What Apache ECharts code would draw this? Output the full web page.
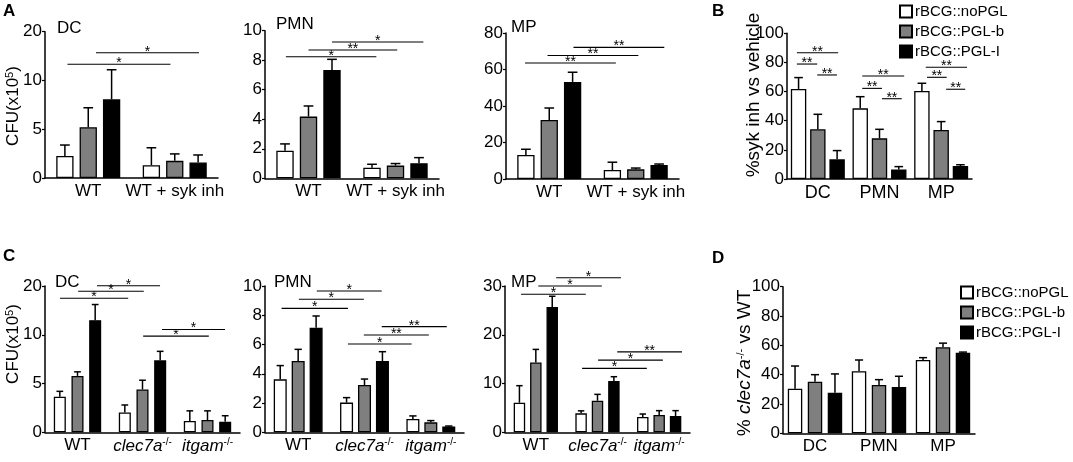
<!DOCTYPE html>
<html>
<head>
<meta charset="utf-8">
<script src="https://cdn.jsdelivr.net/npm/echarts@6/dist/echarts.min.js"></script>
<style>
html, body { margin: 0; padding: 0; background: #fff; }
#chart { width: 1073px; height: 462px; }
</style>
</head>
<body>
<div id="chart"></div>
<script>
var FONT = 'Liberation Sans';

// categories
var groupsInh = ['WT', 'WT + syk inh'];
var groupsKo = ['WT', 'clec7a-/-', 'itgam-/-'];
var cellTypes = ['DC', 'PMN', 'MP'];
var strains = ['rBCG::noPGL', 'rBCG::PGL-b', 'rBCG::PGL-I'];
var cfuTicks = ['0', '5', '10', '20']; // top tick printed as 20 in the figure

// means and SEM, [strain][group]
var aDcMean = [[2.26, 1.32], [5.2, 1.76], [8.07, 1.59]];
var aDcSem = [[1.12, 1.78], [2.0, 0.71], [3.03, 0.77]];
var aPmnMean = [[1.87, 0.72], [4.18, 0.86], [7.34, 1.02]];
var aPmnSem = [[0.46, 0.23], [0.72, 0.14], [0.72, 0.38]];
var aMpMean = [[13.2, 4.9], [32.3, 5.3], [53.2, 7.7]];
var aMpSem = [[3.1, 4.3], [6.6, 0.7], [5.3, 0.5]];

var bMean = [[61.8, 48.5, 60.4], [34.1, 27.9, 33.6], [13.5, 6.6, 8.9]];
var bSem = [[7.8, 8.0, 5.3], [10.3, 6.2, 5.8], [6.0, 1.9, 0.9]];

var cDcMean = [[3.64, 2.04, 1.16], [5.78, 4.39, 1.26], [11.5, 7.38, 1.09]];
var cDcSem = [[0.56, 0.76, 1.04], [0.42, 0.95, 0.94], [1.6, 0.92, 0.61]];
var cPmnMean = [[3.62, 2.03, 0.91], [4.87, 3.23, 0.68], [7.15, 4.87, 0.39]];
var cPmnSem = [[0.94, 0.34, 0.21], [0.8, 0.41, 0.12], [0.8, 0.64, 0.04]];
var cMpMean = [[6.07, 3.89, 3.14], [14.3, 6.48, 3.55], [25.7, 10.5, 3.34]];
var cMpSem = [[3.49, 0.51, 0.61], [2.7, 1.3, 0.89], [2.2, 0.9, 1.1]];

var dMean = [[30.4, 42.3, 50.0], [35.2, 33.0, 58.7], [27.7, 31.5, 55.0]];
var dSem = [[15.5, 7.7, 1.6], [4.8, 3.6, 2.8], [12.8, 7.4, 0.4]];

// significance bars: [from, to] in category units from first group, y value, label
var aDcSig = [[-0.24, 0.95, 11.66, '*'], [0.09, 1.28, 12.84, '*']];
var aPmnSig = [[-0.26, 0.78, 8.24, '*'], [0, 1.02, 8.69, '**'], [0.27, 1.32, 9.23, '*']];
var aMpSig = [[-0.28, 0.77, 63.6, '**'], [-0.02, 1.03, 67.7, '**'], [0.28, 1.33, 72.1, '**']];
var bSig = [
  [-0.34, 0.33, 86.7, '**'], [-0.34, -0.01, 78.9, '**'], [-0.01, 0.31, 71.4, '**'],
  [0.72, 1.40, 70.7, '**'], [0.72, 1.04, 62.2, '**'], [1.04, 1.36, 55.1, '**'],
  [1.75, 2.42, 76.7, '**'], [1.77, 2.09, 69.8, '**'], [2.08, 2.39, 61.6, '**']
];
var cDcSig = [[-0.27, 0.78, 13.74, '*'], [0.01, 1.02, 14.46, '*'], [0.3, 1.27, 15.03, '*'],
  [1.01, 2.02, 9.86, '*'], [1.3, 2.27, 10.54, '*']];
var cPmnSig = [[-0.25, 0.75, 8.47, '*'], [0.01, 0.99, 9.09, '*'], [0.28, 1.26, 9.66, '*'],
  [0.75, 1.71, 6.04, '*'], [0.99, 1.97, 6.65, '**'], [1.26, 2.24, 7.22, '**']];
var cMpSig = [[-0.24, 0.81, 28.3, '*'], [0.04, 1.07, 30.0, '*'], [0.33, 1.38, 31.7, '*'],
  [0.75, 1.8, 13.1, '*'], [1.01, 2.06, 14.8, '*'], [1.32, 2.37, 16.5, '**']];

var fills = ['#ffffff', '#7f7f7f', '#000000'];

var panels = [
  { cats: groupsInh, mean: aDcMean, sem: aDcSem, sig: aDcSig, max: 15, step: 5, ticks: cfuTicks,
    grid: { left: 45, top: 31.7, width: 173, height: 146.3 }, barW: 0.2, gap: 0.35 },
  { cats: groupsInh, mean: aPmnMean, sem: aPmnSem, sig: aPmnSig, max: 10, step: 2,
    grid: { left: 265, top: 30.7, width: 174, height: 147.6 }, barW: 0.2, gap: 0.35 },
  { cats: groupsInh, mean: aMpMean, sem: aMpSem, sig: aMpSig, max: 80, step: 20,
    grid: { left: 506, top: 33, width: 173, height: 146 }, barW: 0.2, gap: 0.35 },
  { cats: cellTypes, mean: bMean, sem: bSem, sig: bSig, max: 100, step: 20,
    grid: { left: 787, top: 33.3, width: 185, height: 145.7 }, barW: 0.25, gap: 0.25, xFont: 18 },
  { cats: groupsKo, mean: cDcMean, sem: cDcSem, sig: cDcSig, max: 15, step: 5, ticks: cfuTicks,
    grid: { left: 45, top: 286, width: 195, height: 146.3 }, barW: 0.185, gap: 0.47 },
  { cats: groupsKo, mean: cPmnMean, sem: cPmnSem, sig: cPmnSig, max: 10, step: 2,
    grid: { left: 265, top: 286, width: 199, height: 146.3 }, barW: 0.196, gap: 0.38 },
  { cats: groupsKo, mean: cMpMean, sem: cMpSem, sig: cMpSig, max: 30, step: 10,
    grid: { left: 505, top: 286, width: 185, height: 146.3 }, barW: 0.186, gap: 0.43 },
  { cats: cellTypes, mean: dMean, sem: dSem, max: 100, step: 20,
    grid: { left: 783, top: 286.7, width: 192, height: 146.6 }, barW: 0.226, gap: 0.38 }
];

var richStyles = {
  it: { fontStyle: 'italic', fontFamily: FONT, fontSize: 17, color: '#000' },
  sup: { fontSize: 10, fontFamily: FONT, color: '#000', verticalAlign: 'top' }
};

function catLabel(v) {
  if (v.indexOf('-/-') < 0) return v;
  return '{it|' + v.replace('-/-', '') + '}{sup|-/-}';
}

var grids = [], xAxes = [], yAxes = [], series = [];

panels.forEach(function (p, i) {
  grids.push(p.grid);
  xAxes.push({
    type: 'category', gridIndex: i, data: p.cats,
    axisLine: { lineStyle: { color: '#000', width: 1.5 } },
    axisTick: { alignWithLabel: true, length: 4, lineStyle: { color: '#000', width: 1.2 } },
    axisLabel: { interval: 0, fontSize: p.xFont || 17, color: '#000', fontFamily: FONT, margin: 5,
      formatter: catLabel, rich: richStyles }
  });
  yAxes.push({
    type: 'value', gridIndex: i, min: 0, max: p.max, interval: p.step,
    splitLine: { show: false },
    axisLine: { show: true, lineStyle: { color: '#000', width: 1.5 } },
    axisTick: { show: true, length: 3, lineStyle: { color: '#000', width: 1.2 } },
    axisLabel: { fontSize: 17, color: '#000', fontFamily: FONT, margin: 3,
      formatter: function (v) { return p.ticks ? p.ticks[Math.round(v / p.step)] : String(v); } }
  });

  strains.forEach(function (s, k) {
    series.push({
      type: 'bar', name: s, xAxisIndex: i, yAxisIndex: i, data: p.mean[k],
      barWidth: (p.barW * 100) + '%', barGap: (p.gap * 100) + '%',
      itemStyle: { color: fills[k], borderColor: '#000', borderWidth: 1.3 },
      silent: true
    });
  });

  // upper error bars
  var errData = [];
  strains.forEach(function (s, k) {
    p.mean[k].forEach(function (m, g) { errData.push([g, m + p.sem[k][g], k, m]); });
  });
  series.push({
    type: 'custom', xAxisIndex: i, yAxisIndex: i, data: errData, encode: { x: 0, y: 1 },
    clip: false, silent: true, z: 3,
    renderItem: function (params, api) {
      var g = api.value(0), top = api.value(1), k = api.value(2), m = api.value(3);
      var band = api.size([1, 0])[0];
      var w = p.barW * band, gp = p.gap * w, total = 3 * w + 2 * gp;
      var c = api.coord([g, m]), t = api.coord([g, top]);
      var x = c[0] - total / 2 + w / 2 + k * (w + gp);
      var cap = w * 0.28;
      var st = { stroke: '#000', lineWidth: 1.5 };
      return { type: 'group', children: [
        { type: 'line', shape: { x1: x, y1: c[1], x2: x, y2: t[1] }, style: st },
        { type: 'line', shape: { x1: x - cap, y1: t[1], x2: x + cap, y2: t[1] }, style: st }
      ] };
    }
  });

  if (p.sig) {
    series.push({
      type: 'custom', xAxisIndex: i, yAxisIndex: i,
      data: p.sig.map(function (s) { return [0, s[2]]; }), encode: { x: 0, y: 1 },
      clip: false, silent: true, z: 4,
      renderItem: function (params, api) {
        var s = p.sig[params.dataIndex];
        var band = api.size([1, 0])[0];
        var o = api.coord([0, s[2]]);
        var x1 = o[0] + s[0] * band, x2 = o[0] + s[1] * band;
        return { type: 'group', children: [
          { type: 'line', shape: { x1: x1, y1: o[1], x2: x2, y2: o[1] },
            style: { stroke: '#000', lineWidth: 1.1 } },
          { type: 'text', style: { text: s[3], x: (x1 + x2) / 2, y: o[1] - 1,
            align: 'center', verticalAlign: 'middle', textAlign: 'center', textVerticalAlign: 'middle',
            fontSize: 14, fontFamily: FONT, fill: '#000' } }
        ] };
      }
    });
  }
});

// rotated y-axis titles
function axisTitle(text, x, y, size) {
  return {
    type: 'text', x: x, y: y, rotation: Math.PI / 2, silent: true,
    style: {
      text: text, fontSize: size, fontFamily: FONT, fill: '#000',
      align: 'center', verticalAlign: 'middle', textAlign: 'center', textVerticalAlign: 'middle',
      rich: {
        it: { fontStyle: 'italic', fontSize: size, fontFamily: FONT, fill: '#000', color: '#000' },
        sup: { fontSize: 11, fontFamily: FONT, fill: '#000', color: '#000', verticalAlign: 'top' }
      }
    }
  };
}

function label(text, left, top, bold) {
  return { text: text, left: left, top: top, padding: 0,
    textStyle: { fontSize: 17, fontWeight: bold ? 'bold' : 'normal', color: '#000', fontFamily: FONT } };
}

function legendAt(left, top) {
  return { data: strains, orient: 'vertical', left: left, top: top, padding: 0,
    itemWidth: 12, itemHeight: 12, itemGap: 5, icon: 'rect', selectedMode: false,
    textStyle: { fontSize: 15, color: '#000', fontFamily: FONT, padding: [0, 0, 0, -2] } };
}

var chart = echarts.init(document.getElementById('chart'));
chart.setOption({
  animation: false,
  backgroundColor: '#fff',
  textStyle: { fontFamily: FONT },
  title: [
    label('A', 3, 3, true), label('B', 712, 3, true), label('C', 3, 248, true), label('D', 712, 250, true),
    label('DC', 57, 20), label('PMN', 276, 16), label('MP', 511, 19),
    label('DC', 55, 274), label('PMN', 274, 274), label('MP', 511, 274)
  ],
  graphic: [
    axisTitle('CFU(x10{sup|5})', 13, 106, 17),
    axisTitle('%syk inh vs vehicle', 754, 95, 19),
    axisTitle('CFU(x10{sup|5})', 13, 344, 17),
    axisTitle('% {it|clec7a}{sup|-/-} vs WT', 745, 363, 19)
  ],
  legend: [legendAt(899, 4), legendAt(960, 285)],
  grid: grids,
  xAxis: xAxes,
  yAxis: yAxes,
  series: series
});
</script>
</body>
</html>
